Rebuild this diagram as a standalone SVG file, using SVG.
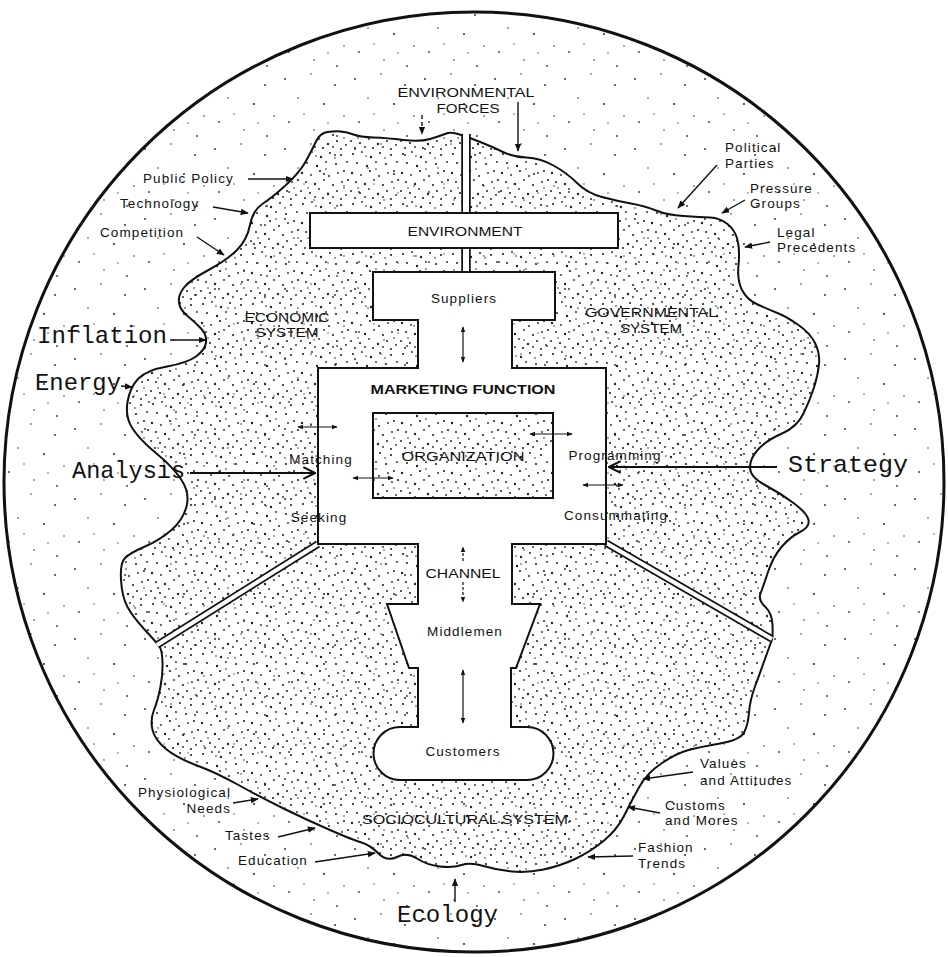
<svg xmlns="http://www.w3.org/2000/svg" width="948" height="957" viewBox="0 0 948 957">
<defs>
<pattern id="dense" width="50" height="50" patternUnits="userSpaceOnUse">
<g fill="#222">
<circle cx="3" cy="4" r="1.1"/><circle cx="12" cy="2" r="0.9"/><circle cx="21" cy="7" r="1.2"/><circle cx="30" cy="3" r="1"/><circle cx="41" cy="5" r="1.1"/><circle cx="47" cy="12" r="0.9"/><circle cx="7" cy="13" r="1"/><circle cx="17" cy="16" r="1.2"/><circle cx="26" cy="12" r="0.9"/><circle cx="36" cy="14" r="1.1"/><circle cx="44" cy="21" r="1"/><circle cx="2" cy="23" r="1.2"/><circle cx="11" cy="25" r="0.9"/><circle cx="20" cy="21" r="1.1"/><circle cx="29" cy="26" r="1"/><circle cx="38" cy="23" r="0.9"/><circle cx="48" cy="30" r="1.1"/><circle cx="6" cy="32" r="1"/><circle cx="15" cy="34" r="1.2"/><circle cx="24" cy="30" r="0.9"/><circle cx="33" cy="35" r="1.1"/><circle cx="42" cy="32" r="0.9"/><circle cx="1" cy="41" r="1"/><circle cx="10" cy="43" r="1.1"/><circle cx="19" cy="39" r="0.9"/><circle cx="28" cy="44" r="1.2"/><circle cx="37" cy="41" r="1"/><circle cx="46" cy="45" r="0.9"/><circle cx="5" cy="48" r="1"/><circle cx="15" cy="47" r="0.9"/><circle cx="23" cy="48" r="1.1"/><circle cx="33" cy="47" r="0.9"/><circle cx="41" cy="49" r="1"/><circle cx="8" cy="38" r="0.8"/><circle cx="35" cy="8" r="0.8"/><circle cx="16" cy="6" r="0.8"/><circle cx="44" cy="38" r="0.8"/><circle cx="26" cy="19" r="0.8"/>
</g>
</pattern>
<pattern id="sparse" width="70" height="70" patternUnits="userSpaceOnUse">
<g fill="#333">
<circle cx="5" cy="9" r="1"/><circle cx="31" cy="4" r="0.8"/><circle cx="55" cy="15" r="1"/><circle cx="18" cy="28" r="0.8"/><circle cx="44" cy="34" r="1.1"/><circle cx="64" cy="46" r="0.8"/><circle cx="9" cy="52" r="0.9"/><circle cx="34" cy="60" r="0.8"/><circle cx="57" cy="66" r="0.9"/><circle cx="24" cy="44" r="0.7"/><circle cx="48" cy="53" r="0.7"/>
</g>
</pattern>
<marker id="tri" viewBox="0 0 10 10" refX="9" refY="5" markerWidth="8" markerHeight="8" markerUnits="userSpaceOnUse" orient="auto-start-reverse">
<path d="M0,1 L10,5 L0,9 Z" fill="#111"/>
</marker>
<marker id="sm" viewBox="0 0 10 10" refX="9" refY="5" markerWidth="6" markerHeight="6" markerUnits="userSpaceOnUse" orient="auto-start-reverse">
<path d="M0,1 L10,5 L0,9 Z" fill="#111"/>
</marker>
<marker id="open" viewBox="0 0 12 12" refX="11" refY="6" markerWidth="14" markerHeight="14" markerUnits="userSpaceOnUse" orient="auto">
<path d="M1,1 L11,6 L1,11" fill="none" stroke="#111" stroke-width="1.8"/>
</marker>
<style>
.lbl{font-family:"Liberation Sans",Arial,sans-serif;font-size:13.5px;fill:#111;letter-spacing:1.1px}
.cap{font-family:"Liberation Sans",Arial,sans-serif;font-size:13.5px;fill:#111}
.tw{font-family:"Liberation Mono","Courier New",monospace;font-size:24px;fill:#111}
.arr{stroke:#111;stroke-width:1.4;fill:none;marker-end:url(#tri)}
.dbl{stroke:#111;stroke-width:1.2;fill:none;marker-start:url(#sm);marker-end:url(#sm)}
.big{stroke:#111;stroke-width:2;fill:none;marker-end:url(#open)}
.edge{stroke:#111;stroke-width:2;fill:#fff}
</style>
</defs>
<rect width="948" height="957" fill="#fff"/>
<g id="world">
<ellipse cx="474" cy="482" rx="470" ry="470" fill="url(#sparse)" stroke="#111" stroke-width="3"/>
</g>
<g id="systems">
<path d="M466,136.5 Q470,138 481.5,142.5 Q493,147 503,152 Q513,157 526.5,157.5 Q540,158 553.5,165.5 Q567,173 577,183 Q587,193 602,197 Q617,201 631,203.5 Q645,206 656,210.5 Q667,215 683.5,216 Q700,217 710,217.5 Q720,218 727.5,224 Q735,230 737.5,240 Q740,250 738.5,265 Q737,280 742,290 Q747,300 758.5,305 Q770,310 778.5,313.5 Q787,317 798.5,325 Q810,333 815,343 Q820,353 819,364 Q818,375 814,387.5 Q810,400 803.5,413.5 Q797,427 782,433.5 Q767,440 758.5,449 Q750,458 750,467.5 Q750,477 765,485 Q780,493 793.5,503 Q807,513 808.5,520 Q810,527 800,532 Q790,537 781.5,547 Q773,557 768,572 Q763,587 760.5,593.5 Q758,600 765,606.5 Q772,613 772.5,625 Q773,637 771.5,641 Q770,645 765,659 Q760,673 755,686.5 Q750,700 749,712.5 Q748,725 744,732.5 Q740,740 720,743.5 Q700,747 688.5,750 Q677,753 662,763 Q647,773 639.5,786.5 Q632,800 624.5,815 Q617,830 603.5,841 Q590,852 575,859 Q560,866 543.5,869.5 Q527,873 512,871.5 Q497,870 483.5,866 Q470,862 461.5,865 Q453,868 440,866.5 Q427,865 417,858.5 Q407,852 397,857 Q387,862 378.5,853.5 Q370,845 361.5,842.5 Q353,840 330,830 Q307,820 283.5,808.5 Q260,797 238.5,785 Q217,773 197,765.5 Q177,758 166,749 Q155,740 152.5,730 Q150,720 154,710 Q158,700 160.5,686.5 Q163,673 162.5,661.5 Q162,650 159.5,646.5 Q157,643 145,630 Q133,617 127.5,607 Q122,597 121,580 Q120,563 125,558 Q130,553 145,546.5 Q160,540 171.5,530 Q183,520 186.5,506.5 Q190,493 181.5,480 Q173,467 156.5,453.5 Q140,440 132.5,428.5 Q125,417 127.5,402 Q130,387 138.5,378.5 Q147,370 167,366.5 Q187,363 196,356.5 Q205,350 206,342.5 Q207,335 201,328.5 Q195,322 187.5,316 Q180,310 179,302.5 Q178,295 184,287.5 Q190,280 208.5,270 Q227,260 237,250 Q247,240 250,225 Q253,210 263,203.5 Q273,197 286.5,184.5 Q300,172 306,161 Q312,150 316,141.5 Q320,133 327.5,132 Q335,131 341,131.5 Q347,132 353.5,134.5 Q360,137 373.5,137.5 Q387,138 403.5,140 Q420,142 430,139 Q440,136 445,134 Q450,132 456,133.5 Q462,135 466,136.5 Z" fill="url(#dense)" stroke="#111" stroke-width="2" stroke-linejoin="round"/>
</g>
<g id="dividers">
<line x1="466" y1="134" x2="466" y2="273" stroke="#111" stroke-width="9.5"/>
<line x1="466" y1="131" x2="466" y2="273" stroke="#fff" stroke-width="6"/>
<line x1="318" y1="544" x2="157" y2="645" stroke="#111" stroke-width="7.5"/>
<line x1="318" y1="544" x2="157" y2="645" stroke="#fff" stroke-width="4"/>
<line x1="606" y1="543" x2="772" y2="639" stroke="#111" stroke-width="7.5"/>
<line x1="606" y1="543" x2="772" y2="639" stroke="#fff" stroke-width="4"/>
</g>
<g id="environment">
<rect x="310" y="213" width="308" height="35" class="edge" stroke-width="1.8"/>
<text x="465" y="236" class="cap" text-anchor="middle" textLength="115" lengthAdjust="spacingAndGlyphs">ENVIRONMENT</text>
</g>
<g id="marketing-function">
<path class="edge" stroke-linejoin="miter" d="M373,272 H555 V320 H512 V368 H606 V544 H512 V604 H540 L516,668 H511 V727 H527 A26.5,26.5 0 0 1 527,780 H400 A26.5,26.5 0 0 1 400,727 H418 V668 H409 L387,604 H418 V544 H318 V368 H418 V320 H373 Z"/>
<text x="463" y="394" text-anchor="middle" font-family="Liberation Sans, Arial, sans-serif" font-size="13.5" font-weight="bold" fill="#111" textLength="185" lengthAdjust="spacingAndGlyphs">MARKETING FUNCTION</text>
</g>
<g id="suppliers"><text x="464" y="303" class="lbl" text-anchor="middle">Suppliers</text></g>
<g id="organization">
<rect x="373" y="413" width="180" height="85" fill="url(#dense)" stroke="#111" stroke-width="2"/>
<text x="463" y="461" class="cap" text-anchor="middle" textLength="123" lengthAdjust="spacingAndGlyphs">ORGANIZATION</text>
</g>
<g id="channel"><text x="463" y="578" class="cap" text-anchor="middle" textLength="75" lengthAdjust="spacingAndGlyphs">CHANNEL</text></g>
<g id="middlemen"><text x="465" y="636" class="lbl" text-anchor="middle">Middlemen</text></g>
<g id="customers"><text x="463" y="756" class="lbl" text-anchor="middle">Customers</text></g>
<g id="labels">
<text x="466" y="97" class="cap" text-anchor="middle" textLength="137" lengthAdjust="spacingAndGlyphs">ENVIRONMENTAL</text>
<text x="468" y="113" class="cap" text-anchor="middle" textLength="63" lengthAdjust="spacingAndGlyphs">FORCES</text>
<text x="143" y="183" class="lbl">Public Policy</text>
<text x="120" y="208" class="lbl">Technology</text>
<text x="100" y="237" class="lbl">Competition</text>
<text x="287" y="322" class="cap" text-anchor="middle" textLength="85" lengthAdjust="spacingAndGlyphs">ECONOMIC</text>
<text x="287" y="337" class="cap" text-anchor="middle" textLength="63" lengthAdjust="spacingAndGlyphs">SYSTEM</text>
<text x="651" y="317" class="cap" text-anchor="middle" textLength="132" lengthAdjust="spacingAndGlyphs">GOVERNMENTAL</text>
<text x="651" y="333" class="cap" text-anchor="middle" textLength="62" lengthAdjust="spacingAndGlyphs">SYSTEM</text>
<text x="725" y="152" class="lbl">Political</text>
<text x="725" y="168" class="lbl">Parties</text>
<text x="750" y="193" class="lbl">Pressure</text>
<text x="750" y="208" class="lbl">Groups</text>
<text x="777" y="237" class="lbl">Legal</text>
<text x="777" y="252" class="lbl">Precedents</text>
<text x="321" y="464" class="lbl" text-anchor="middle">Matching</text>
<text x="319" y="522" class="lbl" text-anchor="middle">Seeking</text>
<text x="615" y="460" class="lbl" text-anchor="middle">Programming</text>
<text x="616" y="520" class="lbl" text-anchor="middle">Consummating</text>
<text x="465" y="824" class="cap" text-anchor="middle" textLength="206" lengthAdjust="spacingAndGlyphs">SOCIOCULTURAL SYSTEM</text>
<text x="231" y="797" class="lbl" text-anchor="end">Physiological</text>
<text x="231" y="813" class="lbl" text-anchor="end">Needs</text>
<text x="225" y="840" class="lbl">Tastes</text>
<text x="238" y="865" class="lbl">Education</text>
<text x="700" y="768" class="lbl">Values</text>
<text x="700" y="785" class="lbl">and Attitudes</text>
<text x="665" y="810" class="lbl">Customs</text>
<text x="665" y="825" class="lbl">and Mores</text>
<text x="638" y="852" class="lbl">Fashion</text>
<text x="638" y="868" class="lbl">Trends</text>
<text x="37" y="343" class="tw" textLength="130" lengthAdjust="spacingAndGlyphs">Inflation</text>
<text x="35" y="390" class="tw" textLength="86" lengthAdjust="spacingAndGlyphs">Energy</text>
<text x="72" y="478" class="tw" textLength="113" lengthAdjust="spacingAndGlyphs">Analysis</text>
<text x="788" y="472" class="tw" textLength="120" lengthAdjust="spacingAndGlyphs">Strategy</text>
<text x="397" y="922" class="tw" textLength="101" lengthAdjust="spacingAndGlyphs">Ecology</text>
</g>
<g id="connectors">
<line class="arr" x1="422" y1="115" x2="422" y2="134" stroke-dasharray="4,3"/>
<line class="arr" x1="518" y1="102" x2="518" y2="151"/>
<line class="arr" x1="248" y1="179" x2="293" y2="179"/>
<line class="arr" x1="213" y1="207" x2="248" y2="213"/>
<line class="arr" x1="197" y1="237" x2="224" y2="255"/>
<line class="arr" x1="717" y1="165" x2="678" y2="208"/>
<line class="arr" x1="745" y1="200" x2="722" y2="213"/>
<line class="arr" x1="770" y1="242" x2="745" y2="247"/>
<line class="arr" x1="170" y1="340" x2="206" y2="340"/>
<line class="arr" x1="121" y1="386" x2="132" y2="387"/>
<line class="big" x1="190" y1="473" x2="315" y2="473"/>
<line class="big" x1="777" y1="467" x2="609" y2="467"/>
<line class="arr" x1="455" y1="902" x2="455" y2="879"/>
<line class="arr" x1="233" y1="803" x2="258" y2="799"/>
<line class="arr" x1="278" y1="837" x2="315" y2="828"/>
<line class="arr" x1="315" y1="862" x2="375" y2="853"/>
<line class="arr" x1="693" y1="772" x2="643" y2="779"/>
<line class="arr" x1="660" y1="813" x2="628" y2="807"/>
<line class="arr" x1="633" y1="856" x2="588" y2="857"/>
<line class="dbl" x1="463" y1="327" x2="463" y2="362"/>
<line class="dbl" x1="298" y1="427" x2="337" y2="427"/>
<line class="dbl" x1="353" y1="478" x2="393" y2="478"/>
<line class="dbl" x1="530" y1="434" x2="572" y2="434"/>
<line class="dbl" x1="583" y1="485" x2="623" y2="485"/>
<line class="dbl" x1="463" y1="670" x2="463" y2="723"/>
<line x1="463" y1="561" x2="463" y2="547" stroke="#111" stroke-width="1.2" stroke-dasharray="3,2" marker-end="url(#sm)"/>
<line x1="463" y1="582" x2="463" y2="602" stroke="#111" stroke-width="1.2" stroke-dasharray="3,2" marker-end="url(#sm)"/>
</g>
</svg>
